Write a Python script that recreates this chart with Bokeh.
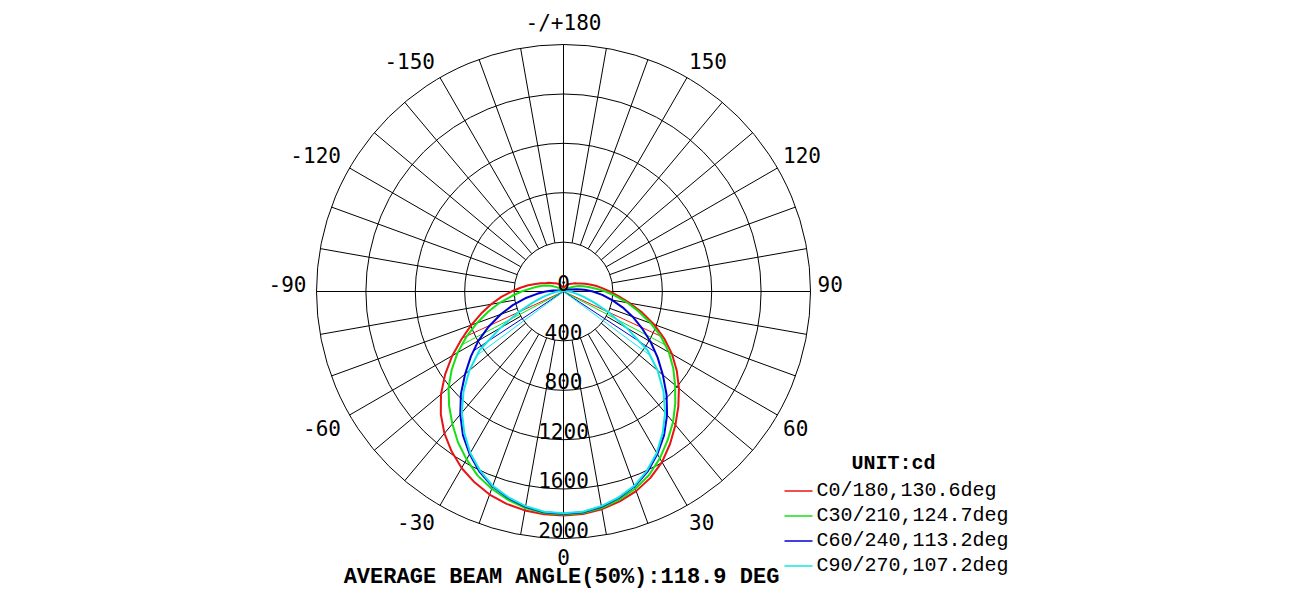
import numpy as np
from bokeh.plotting import figure
from bokeh.models import Range1d
from bokeh.core.properties import value
from bokeh.embed import file_html
from bokeh.resources import INLINE

# ---------------- data (cd), gamma every 5 degrees ----------------
gamma = list(range(0, 181, 5))

# C0/180 plane
c0_right = [1814, 1808, 1790, 1760, 1720, 1665, 1595, 1505, 1410, 1315, 1220, 1120, 1015, 900, 780, 660,
            545, 450, 375, 315, 265, 220, 185, 155, 130, 115, 100, 90, 80, 72, 65, 58, 50, 40, 30, 20, 10]
c0_left = [1814, 1810, 1800, 1780, 1750, 1705, 1650, 1580, 1500, 1405, 1295, 1170, 1040, 910, 795, 690,
           595, 505, 420, 350, 290, 235, 195, 160, 140, 120, 105, 95, 85, 75, 65, 58, 50, 40, 30, 20, 10]
# C30/210 plane
c30_right = [1806, 1800, 1780, 1745, 1700, 1640, 1560, 1470, 1380, 1280, 1180, 1085, 985, 872, 752, 632,
             525, 425, 340, 265, 205, 165, 130, 90, 60, 50, 40, 35, 30, 28, 25, 22, 20, 15, 10, 7, 5]
c30_left = [1806, 1800, 1780, 1745, 1700, 1645, 1570, 1490, 1400, 1310, 1215, 1105, 990, 868, 745, 632,
            525, 420, 340, 270, 220, 180, 140, 110, 75, 55, 45, 38, 30, 28, 25, 22, 20, 15, 10, 7, 5]
# C60/240 plane
c60_right = [1800, 1795, 1770, 1730, 1680, 1610, 1520, 1420, 1305, 1180, 1050, 930, 814, 700, 596, 495,
             400, 315, 238, 170, 110, 65, 40, 28, 20, 15, 12, 10, 8, 6, 5, 4, 3, 2, 2, 1, 0]
c60_left = [1800, 1795, 1770, 1730, 1680, 1610, 1520, 1420, 1300, 1175, 1040, 915, 795, 665, 540, 425,
            315, 215, 145, 90, 50, 30, 20, 14, 10, 8, 6, 5, 5, 4, 4, 3, 3, 2, 2, 1, 0]
# C90/270 plane
c90_right = [1795, 1790, 1765, 1725, 1675, 1600, 1510, 1400, 1280, 1145, 995, 830, 590, 410, 265, 170,
             110, 70, 45, 25, 15, 8, 5, 3, 2, 1, 0, 0, 0, 0, 0, 0, 0, 0, 0, 0, 0]
c90_left = [1795, 1790, 1765, 1725, 1675, 1600, 1510, 1400, 1280, 1145, 995, 830, 590, 410, 265, 170,
            110, 70, 45, 25, 15, 8, 5, 3, 2, 1, 0, 0, 0, 0, 0, 0, 0, 0, 0, 0, 0]

plane_names = ["C0/180", "C30/210", "C60/240", "C90/270"]
beam_angles = [130.6, 124.7, 113.2, 107.2]
average_beam_angle = 118.9
unit = "cd"

ring_values = [0, 400, 800, 1200, 1600, 2000]
angle_ticks = [0, 30, 60, 90, 120, 150, 180, -150, -120, -90, -60, -30]
angle_labels = ["0", "30", "60", "90", "120", "150", "-/+180", "-150", "-120", "-90", "-60", "-30"]

colors = ["#e81414", "#14e014", "#0000d2", "#14e6e6"]

# ---------------- layout ----------------
W, H = 1284, 595
CX, CY = 563, 291            # pixel position of the pole in the screenshot
S = 247.0 / 2000.0           # px per cd
fx, fy = CX, CY

p = figure(width=W, height=H, output_backend="svg", toolbar_location=None,
           x_axis_type=None, y_axis_type=None, min_border=0,
           x_range=Range1d(-fx / S, (W - fx) / S),
           y_range=Range1d(-(H - fy) / S, fy / S))
p.outline_line_color = None
p.background_fill_color = "white"
p.border_fill_color = "white"


def X(px):
    return (px - CX) / S


def Y(py):
    return (CY - py) / S


def polar(r, phi_deg):
    ph = np.radians(phi_deg)
    return np.asarray(r) * np.sin(ph), -np.asarray(r) * np.cos(ph)


rmax = ring_values[-1]
rinner = ring_values[1]

# rings
rings = ring_values[1:]
p.circle(x=[0] * len(rings), y=[0] * len(rings), radius=rings,
         fill_color=None, line_color="black", line_width=1)

# radial spokes
x0s, y0s, x1s, y1s = [], [], [], []
for a in range(-170, 181, 10):
    start = 0 if a % 90 == 0 else rinner
    xa, ya = polar(start, a)
    xb, yb = polar(rmax, a)
    x0s.append(float(xa)); y0s.append(float(ya)); x1s.append(float(xb)); y1s.append(float(yb))
p.segment(x0=x0s, y0=y0s, x1=x1s, y1=y1s, line_color="black", line_width=1)

# curves
pairs = [(c0_left, c0_right), (c30_left, c30_right), (c60_left, c60_right), (c90_left, c90_right)]
g = np.array(gamma, dtype=float)
for (left, right), col, ba in zip(pairs, colors, beam_angles):
    phis = np.concatenate([-g[::-1], g[1:]])
    rs = np.concatenate([np.array(left, float)[::-1], np.array(right, float)[1:]])
    xs, ys = polar(rs, phis)
    p.line(xs, ys, line_color=col, line_width=2, line_join="round")
    half = ba / 2.0
    rr = np.interp(half, g, right)
    rl = np.interp(half, g, left)
    xr, yr = polar(rr, half)
    xl, yl = polar(rl, -half)
    p.segment(x0=[0, 0], y0=[0, 0], x1=[float(xr), float(xl)], y1=[float(yr), float(yl)],
              line_color=col, line_width=1)

FONT = value("DejaVu Sans Mono")

# ring labels (digits sit on the ring)
p.text(x=[0] * len(ring_values), y=[-v for v in ring_values], text=[str(v) for v in ring_values],
       text_align="center", text_baseline="bottom", y_offset=-1,
       text_font=FONT, text_font_size=value("21px"), text_color="black")

# angle labels
rho = 257 / S
for a, lab in zip(angle_ticks, angle_labels):
    xa, ya = polar(rho, a)
    sa, ca = np.sin(np.radians(a)), np.cos(np.radians(a))
    align = "left" if sa > 0.01 else ("right" if sa < -0.01 else "center")
    if ca > 0.01:
        base = "top"
    else:
        base = "bottom"
    p.text(x=[float(xa)], y=[float(ya)], text=[lab], text_align=align, text_baseline=base,
           x_offset=-3 if sa > 0.01 else 0,
           text_font=FONT, text_font_size=value("21px"), text_color="black")

# title
p.text(x=[X(561)], y=[Y(577)], text=["AVERAGE BEAM ANGLE(50%%):%.1f DEG" % average_beam_angle],
       text_align="center", text_baseline="middle", text_font=value("Liberation Mono"),
       text_font_style="bold", text_font_size=value("22px"), text_color="black")

# legend
p.text(x=[X(893)], y=[Y(463)], text=["UNIT:" + unit], text_align="center", text_baseline="middle",
       text_font=value("Liberation Mono"), text_font_style="bold", text_font_size=value("20px"),
       text_color="black")
for i, (nm, ba, col) in enumerate(zip(plane_names, beam_angles, colors)):
    yy = 489.5 + 25 * i
    p.segment(x0=[X(784)], y0=[Y(yy + 1)], x1=[X(812)], y1=[Y(yy + 1)], line_color=col, line_width=1.5)
    p.text(x=[X(816)], y=[Y(yy)], text=["%s,%.1fdeg" % (nm, ba)], text_align="left",
           text_baseline="middle", text_font=value("Liberation Mono"), text_font_size=value("20px"),
           text_color="black")

open("out.html", "w").write(file_html(p, INLINE))
